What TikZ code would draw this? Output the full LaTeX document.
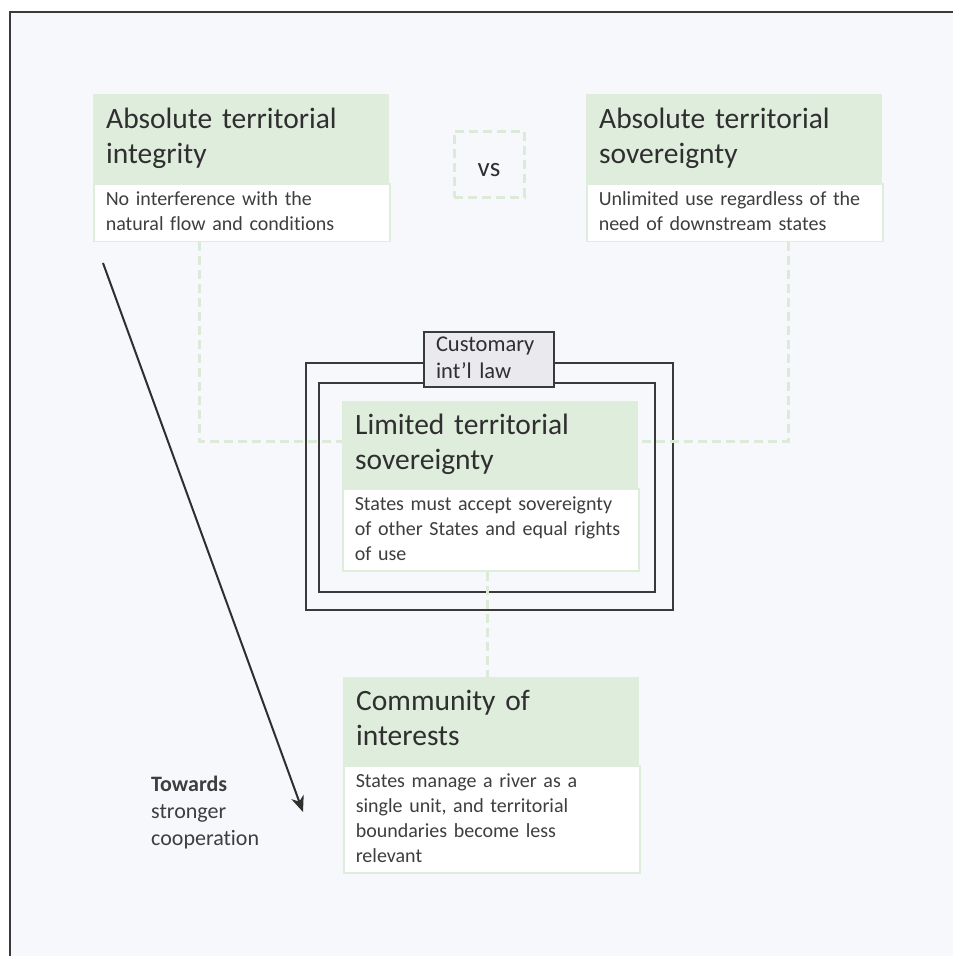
\documentclass[tikz,border=0pt]{standalone}
\usepackage{fontspec}
\setmainfont{Carlito}[Ligatures=NoCommon]
\usetikzlibrary{arrows.meta,calc}

\definecolor{pagebg}{HTML}{F7F8FC}
\definecolor{leafgreen}{HTML}{DFEDDD}
\definecolor{linkgreen}{HTML}{DCEBD9}
\definecolor{ink}{HTML}{2F2F2F}
\definecolor{softink}{HTML}{3E3E3E}
\definecolor{frameink}{HTML}{3A3A3A}
\definecolor{tabgrey}{HTML}{E9E9EE}

\tikzset{
  head/.style={fill=leafgreen, draw=none, anchor=north west,
    minimum width=296pt, text width=270pt, inner xsep=13pt, inner ysep=0pt,
    align=left, text=ink, font=\fontsize{29.5}{35}\selectfont},
  body/.style={fill=white, draw=leafgreen, line width=1.5pt, anchor=north west,
    minimum width=296pt, text width=272pt, inner xsep=12pt, inner ysep=0pt,
    align=left, text=softink, font=\fontsize{20}{25}\selectfont},
  link/.style={draw=linkgreen, line width=3pt, dash pattern=on 9pt off 5pt},
  ring/.style={draw=frameink, line width=2pt},
  tab/.style={fill=tabgrey, draw=frameink, line width=2pt, anchor=north west,
    minimum width=130pt, minimum height=55pt, text width=106pt,
    inner xsep=12pt, inner ysep=0pt, align=left, text=ink,
    font=\fontsize{22.5}{26.5}\selectfont},
  versus/.style={draw=linkgreen, line width=3pt, dash pattern=on 9pt off 5pt,
    minimum width=70pt, minimum height=66pt, inner sep=0pt, text=ink,
    font=\fontsize{27}{32}\selectfont, text height=24pt, text depth=0pt},
  note/.style={anchor=north west, inner sep=0pt, align=left, text=softink,
    font=\fontsize{22}{27}\selectfont},
  trend/.style={draw=ink, line width=2pt,
    -{Stealth[length=16pt, width=13pt, inset=5pt]}},
}

\begin{document}
\begin{tikzpicture}[x=1pt, y=-1pt]
  \useasboundingbox (0,0) rectangle (953,956);

  % page and frame
  \fill[white] (0,0) rectangle (953,956);
  \fill[pagebg] (10,12) rectangle (953,956);
  \draw[frameink, line width=2pt] (10,956) -- (10,12) -- (953,12);

  % upper pair of doctrines
  \node[head, minimum height=89pt] (ih) at (93,94)
    {\strut Absolute territorial\\integrity\strut};
  \node[body, minimum height=57.5pt] (ib) at (ih.south west)
    {\strut No interference with the\\natural flow and conditions\strut};

  \node[head, minimum height=89pt] (sh) at (586,94)
    {\strut Absolute territorial\\sovereignty\strut};
  \node[body, minimum height=57.5pt] (sb) at (sh.south west)
    {\strut Unlimited use regardless of the\\need of downstream states\strut};

  \node[versus] (vs) at (489,164) {vs};

  % customary law frames
  \draw[ring] (306,363) rectangle (673,610);
  \draw[ring] (319,383) rectangle (655,592);
  \node[tab] (cl) at (423,331) {\strut Customary\\int’l law\strut};

  % limited territorial sovereignty
  \node[head, minimum height=87pt] (lh) at (342,401)
    {\strut Limited territorial\\sovereignty\strut};
  \node[body, minimum height=82pt] (lb) at (lh.south west)
    {\strut States must accept sovereignty\\of other States and equal rights\\of use\strut};

  % community of interests
  \node[head, minimum height=88pt] (ch) at (343,677)
    {\strut Community of\\interests\strut};
  \node[body, minimum height=107pt] (cb) at (ch.south west)
    {\strut States manage a river as a\\single unit, and territorial\\boundaries become less\\relevant\strut};

  % dashed links
  \draw[link] ($(ib.south west)+(106,0)$) |- ([yshift=3.5pt]lh.west);
  \draw[link] ($(sb.south west)+(202,0)$) |- ([yshift=3.5pt]lh.east);
  \draw[link] ([xshift=-3pt]lb.south) -- ([xshift=-3pt]lb.south |- ch.north);

  % trend arrow
  \coordinate (trendA) at (103,263);
  \coordinate (trendB) at (303,812);
  \draw[trend] (trendA) -- (trendB);
  \node[note] (tw) at (151,772.8)
    {\strut\textbf{Towards}\\stronger\\cooperation\strut};
\end{tikzpicture}
\end{document}
